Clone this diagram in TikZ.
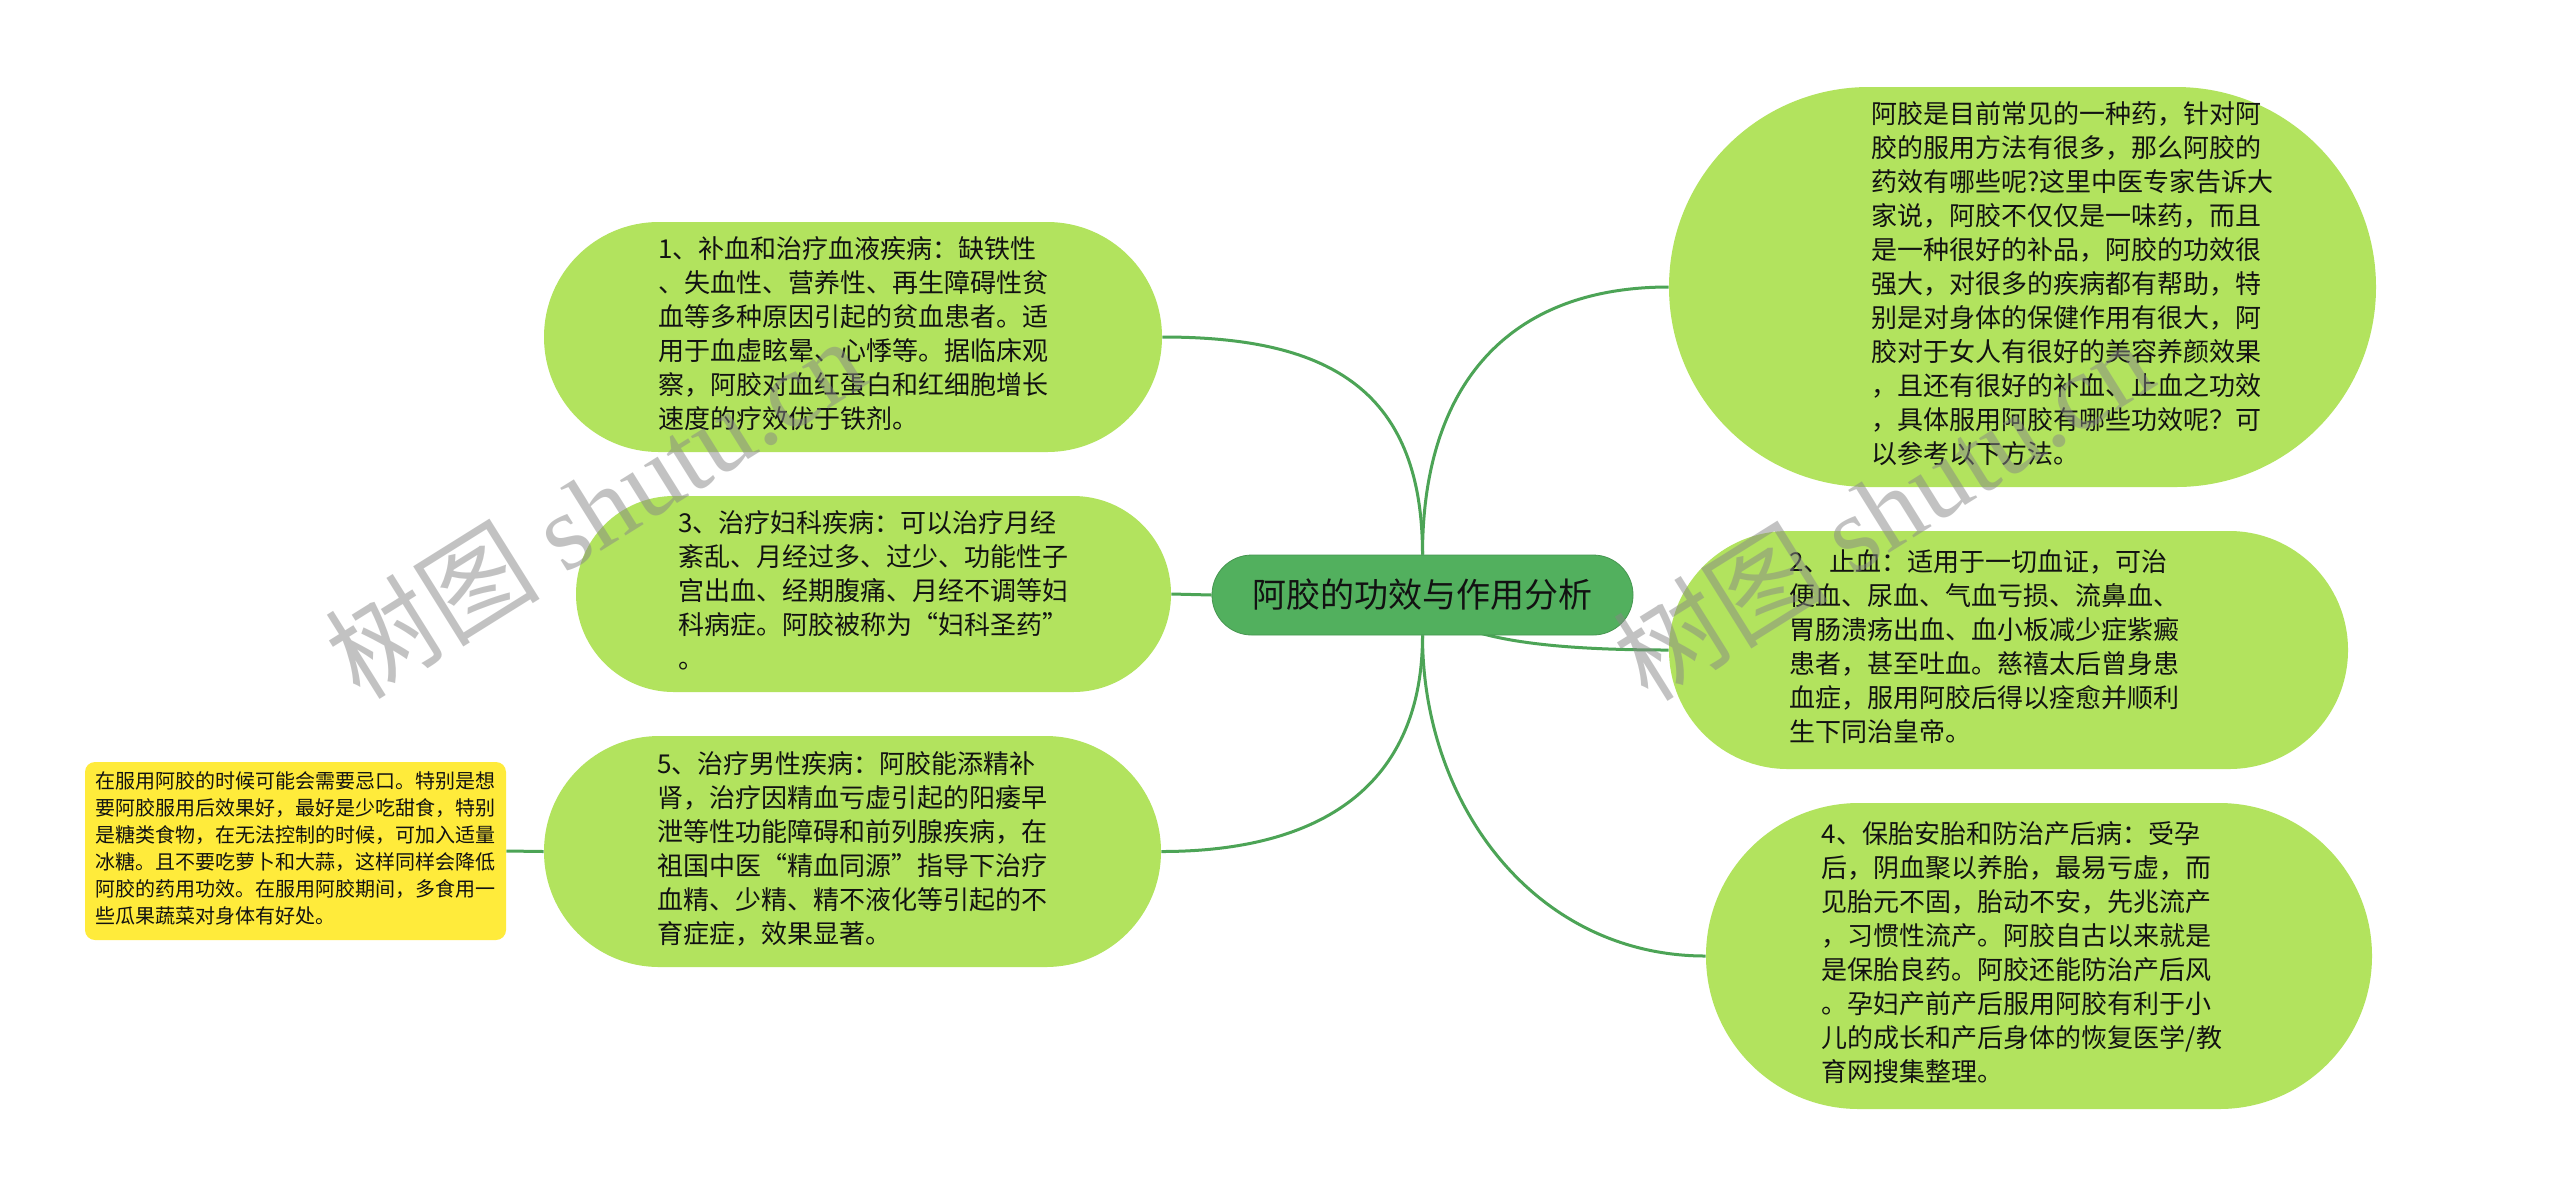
\documentclass[tikz,border=0pt]{standalone}
\usepackage{fontspec}
\setmainfont{Noto Sans CJK SC}
\newfontfamily\wmlat{Liberation Serif}
\usetikzlibrary{backgrounds}
\definecolor{leafgreen}{RGB}{178,227,94}
\definecolor{rootgreen}{RGB}{82,176,94}
\definecolor{linkgreen}{RGB}{76,164,86}
\definecolor{notey}{RGB}{255,235,59}
\definecolor{inkc}{RGB}{18,18,18}
\definecolor{wmgray}{RGB}{135,135,135}
\newcommand\mlines[1]{\begin{tabular}{@{}l@{}}#1\end{tabular}}
\begin{document}
\begin{tikzpicture}[x=0.5pt,y=-0.5pt,
  leaf/.style={fill=leafgreen, inner sep=0pt, text=inkc, font=\fontsize{13pt}{17pt}\selectfont},
  root/.style={fill=rootgreen, draw=rootgreen!85!black, line width=0.4pt, inner sep=0pt, text=inkc, font=\fontsize{17pt}{20pt}\selectfont},
  note/.style={fill=notey, inner sep=0pt, text=inkc, rounded corners=5pt, font=\fontsize{10pt}{13.5pt}\selectfont},
  link/.style={draw=linkgreen, line width=1.5pt},
  wmark/.style={rotate=32, anchor=base west, text=wmgray, text opacity=0.5, inner sep=0pt, font=\fontsize{54pt}{56pt}\selectfont}]
\useasboundingbox (0,0) rectangle (2560,1191);

\node[root, minimum width=210.5pt, minimum height=40pt, rounded corners=19.9pt] (c) at (1422.5,595) {阿胶的功效与作用分析};

\node[leaf, minimum width=309pt, minimum height=115pt, rounded corners=57.4pt] (n1) at (853,337) {\mlines{1、补血和治疗血液疾病：缺铁性\\、失血性、营养性、再生障碍性贫\\血等多种原因引起的贫血患者。适\\用于血虚眩晕、心悸等。据临床观\\察，阿胶对血红蛋白和红细胞增长\\速度的疗效优于铁剂。}};

\node[leaf, minimum width=297.5pt, minimum height=98pt, rounded corners=48.9pt] (n3) at (873.5,594) {\mlines{3、治疗妇科疾病：可以治疗月经\\紊乱、月经过多、过少、功能性子\\宫出血、经期腹痛、月经不调等妇\\科病症。阿胶被称为“妇科圣药”\\。}};

\node[leaf, minimum width=308.5pt, minimum height=115.5pt, rounded corners=57.6pt] (n5) at (852.5,851.5) {\mlines{5、治疗男性疾病：阿胶能添精补\\肾，治疗因精血亏虚引起的阳痿早\\泄等性功能障碍和前列腺疾病，在\\祖国中医“精血同源”指导下治疗\\血精、少精、精不液化等引起的不\\育症症，效果显著。}};

\node[note, minimum width=210.5pt, minimum height=89pt] (y) at (295.5,851) {\mlines{在服用阿胶的时候可能会需要忌口。特别是想\\要阿胶服用后效果好，最好是少吃甜食，特别\\是糖类食物，在无法控制的时候，可加入适量\\冰糖。且不要吃萝卜和大蒜，这样同样会降低\\阿胶的药用功效。在服用阿胶期间，多食用一\\些瓜果蔬菜对身体有好处。}};

\node[leaf, minimum width=353.5pt, minimum height=200pt, rounded corners=99.9pt] (intro) at (2022.5,287) {\hspace*{50pt}\mlines{阿胶是目前常见的一种药，针对阿\\胶的服用方法有很多，那么阿胶的\\药效有哪些呢?这里中医专家告诉大\\家说，阿胶不仅仅是一味药，而且\\是一种很好的补品，阿胶的功效很\\强大，对很多的疾病都有帮助，特\\别是对身体的保健作用有很大，阿\\胶对于女人有很好的美容养颜效果\\，且还有很好的补血、止血之功效\\，具体服用阿胶有哪些功效呢？可\\以参考以下方法。}};

\node[leaf, minimum width=339.5pt, minimum height=119pt, rounded corners=59.4pt] (n2) at (2008.5,650) {\mlines{2、止血：适用于一切血证，可治\\便血、尿血、气血亏损、流鼻血、\\胃肠溃疡出血、血小板减少症紫癜\\患者，甚至吐血。慈禧太后曾身患\\血症，服用阿胶后得以痊愈并顺利\\生下同治皇帝。}\hspace*{24pt}};

\node[leaf, minimum width=333pt, minimum height=153pt, rounded corners=76.4pt] (n4) at (2039,956) {\mlines{4、保胎安胎和防治产后病：受孕\\后，阴血聚以养胎，最易亏虚，而\\见胎元不固，胎动不安，先兆流产\\，习惯性流产。阿胶自古以来就是\\是保胎良药。阿胶还能防治产后风\\。孕妇产前产后服用阿胶有利于小\\儿的成长和产后身体的恢复医学/教\\育网搜集整理。}\hspace*{17pt}};

\begin{scope}[on background layer]
  \fill[white] (0,0) rectangle (2560,1191);
  \draw[link] (n1.east) .. controls +(160,0) and +(0,-170) .. (c.north);
  \draw[link] (c.north) .. controls +(0,-170) and +(-160,0) .. (intro.west);
  \draw[link] (n3.east) -- (c.west);
  \draw[link] (c.south) .. controls +(0,150) and +(160,0) .. (n5.east);
  \draw[link] (c.south) .. controls +(0,170) and +(-170,0) .. (n4.west);
  \draw[link] (c.center) .. controls +(18,45) and +(-119,0) .. (n2.west);
  \draw[link] (y.east) -- (n5.west);
\end{scope}

\node[wmark] (wm1) at (360,702) {树图 {\wmlat shutu.cn}};
\node[wmark] (wm2) at (1648,704) {树图 {\wmlat shutu.cn}};
\end{tikzpicture}
\end{document}
